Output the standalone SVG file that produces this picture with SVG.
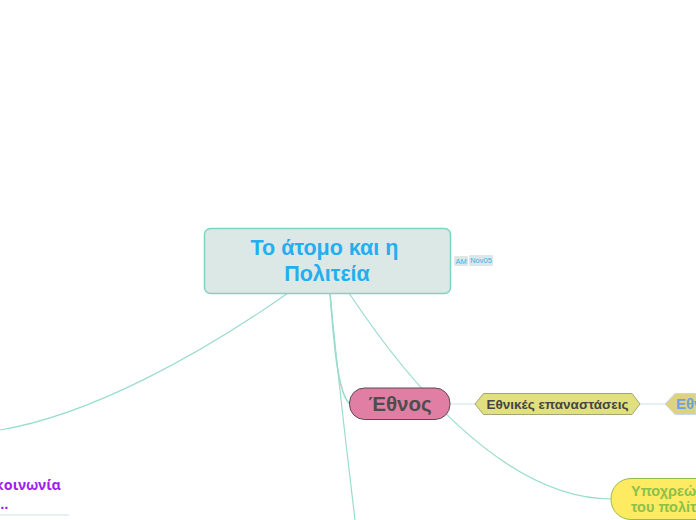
<svg xmlns="http://www.w3.org/2000/svg" width="696" height="520" viewBox="0 0 696 520">
<style>
text{font-family:"Liberation Sans",Arial,sans-serif;font-weight:bold;text-anchor:middle}
.c{fill:none;stroke:#9adccf;stroke-width:1.2}
.l{fill:none;stroke:#dcedef;stroke-width:1.5}
.tag{fill:#dce8e8}
.tt{font-size:7.500px;font-weight:normal;fill:#35b2ee}
</style>
<rect width="696" height="520" fill="#fff"/>
<g id="connectors">
<path class="c" d="M288 293C200 355 90 415 0 430"/>
<path class="c" style="stroke-width:1.6" d="M330 293C334 345 338 395 350 404"/>
<path class="c" d="M330 293C338 380 348 460 355 520"/>
<path class="c" d="M349 293C400 370 500 499 612 499"/>
<path class="l" d="M450 404H476"/>
<path class="l" d="M640 404H666"/>
<path class="l" d="M0 515H69"/>
</g>
<g id="root">
<rect x="204.500" y="228.500" width="246" height="65" rx="6" fill="#dce8e6" stroke="#7fd4c1" stroke-width="1.500"/>
<text x="324.500" y="255" font-size="21.500" fill="#24aef0">Το άτομο και η</text>
<text x="327" y="281" font-size="21.500" fill="#24aef0">Πολιτεία</text>
</g>
<g id="tag-am"><rect class="tag" x="454" y="256" width="14" height="10" rx="1"/><text class="tt" x="461" y="264">AM</text></g>
<g id="tag-nov"><rect class="tag" x="469" y="255" width="24" height="11" rx="1"/><text class="tt" x="481" y="263">Nov05</text></g>
<g id="ethnos">
<rect x="349.500" y="388" width="100.500" height="31.500" rx="15" fill="#e07fa3" stroke="#5a4a50"/>
<text x="400" y="411" font-size="20.500" fill="#4d4d4d">Έθνος</text>
</g>
<g id="ethnikes">
<path d="M475 404L483.500 393.500H632L640 404L632 414.500H483.500Z" fill="#e1e07e" stroke="#a3a37a"/>
<text x="557.500" y="409" font-size="13.500" fill="#454545">Εθνικές επαναστάσεις</text>
</g>
<g id="ethn2">
<path d="M665 404L675 393.500H696V414.500H675Z" fill="#dfd27e" stroke="#c8d8ee"/>
<text x="676" y="409" font-size="15" fill="#6f9fe0" style="text-anchor:start">Εθν</text>
</g>
<g id="ypoxreoseis">
<rect x="611" y="478.500" width="120" height="41" rx="20" fill="#ffeb62" stroke="#8fbf4a"/>
<text x="631" y="496" font-size="14.500" fill="#8cc04a" style="text-anchor:start">Υποχρεώσεις</text>
<text x="631" y="512" font-size="14.500" fill="#8cc04a" style="text-anchor:start">του πολίτη</text>
</g>
<g id="koinonia">
<text x="61" y="490" font-size="14.300" fill="#a01ff0" style="text-anchor:end;font-family:'Noto Sans','Liberation Sans',sans-serif">κοινωνία</text>
<text x="-4" y="509" font-size="15" fill="#a01ff0" style="text-anchor:start">...</text>
</g>
</svg>
